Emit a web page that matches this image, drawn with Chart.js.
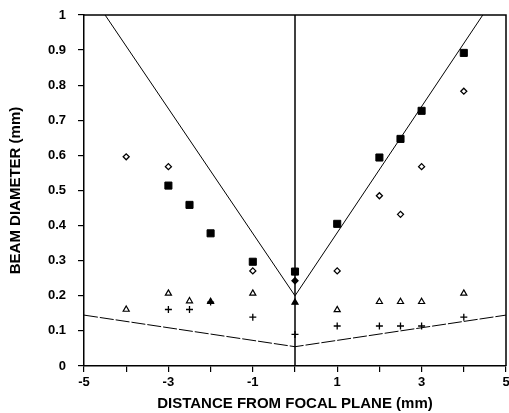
<!DOCTYPE html>
<html>
<head>
<meta charset="utf-8">
<script src="https://cdn.jsdelivr.net/npm/chart.js@4/dist/chart.umd.min.js"></script>
<style>
  html, body { margin: 0; padding: 0; background: #fff; }
  #wrap { width: 509px; height: 413px; }
</style>
</head>
<body>
<div id="wrap"><canvas id="beam"></canvas></div>
<script>
// measured beam diameters (mm) against distance from focal plane (mm)
const squareX = [-3, -2.5, -2, -1, 0, 1, 2, 2.5, 3, 4];
const squareY = [0.514, 0.459, 0.378, 0.297, 0.269, 0.405, 0.594, 0.647, 0.727, 0.892];

const diamondX = [-4, -3, -1, 0, 1, 2, 2.5, 3, 4];
const diamondY = [0.596, 0.568, 0.271, 0.243, 0.271, 0.485, 0.432, 0.568, 0.783];

const triangleX = [-4, -3, -2.5, -2, -1, 0, 1, 2, 2.5, 3, 4];
const triangleY = [0.161, 0.207, 0.185, 0.183, 0.207, 0.181, 0.160, 0.183, 0.183, 0.183, 0.207];

const plusX = [-3, -2.5, -2, -1, 0, 1, 2, 2.5, 3, 4];
const plusY = [0.161, 0.161, 0.182, 0.139, 0.090, 0.114, 0.114, 0.114, 0.114, 0.139];

// theoretical envelopes
const wideX = [-4.5, 0, 4.45];
const wideY = [1, 0.2, 1];
const narrowX = [-5, 0, 5];
const narrowY = [0.145, 0.055, 0.145];
const focalX = [0, 0];
const focalY = [0, 1];

const xTicks = [-5, -3, -1, 1, 3, 5];

const toPoints = (xs, ys) => xs.map((x, i) => ({x: x, y: ys[i]}));

const FONT = `'Liberation Sans', Arial, Helvetica, sans-serif`;

// filled look where marks sit on the focal line or overlap a cross
const fillAt = (xs) => (ctx) => (ctx.raw && xs.includes(ctx.raw.x) ? `#000` : `#fff`);

const frame = {
  id: `frame`,
  afterDraw(chart) {
    const {ctx, chartArea: a} = chart;
    ctx.save();
    ctx.strokeStyle = `#000`;
    ctx.lineWidth = 1.5;
    ctx.beginPath();
    ctx.moveTo(a.left, a.top);
    ctx.lineTo(a.right, a.top);
    ctx.lineTo(a.right, a.bottom);
    ctx.stroke();
    ctx.restore();
  }
};

const lineSet = (xs, ys, extra) => Object.assign({
  data: toPoints(xs, ys),
  showLine: true,
  borderColor: `#000`,
  borderWidth: 1,
  pointRadius: 0,
  fill: false,
}, extra);

new Chart(document.getElementById(`beam`), {
  type: `scatter`,
  plugins: [frame],
  data: {
    datasets: [
      {
        data: toPoints(squareX, squareY),
        pointStyle: `rect`,
        pointRadius: 5,
        backgroundColor: `#000`,
        borderColor: `#000`,
        borderWidth: 1,
      },
      {
        data: toPoints(diamondX, diamondY),
        pointStyle: `rectRot`,
        pointRadius: 3,
        backgroundColor: fillAt([0]),
        borderColor: `#000`,
        borderWidth: 1.3,
      },
      {
        data: toPoints(triangleX, triangleY),
        pointStyle: `triangle`,
        pointRadius: 3.5,
        backgroundColor: fillAt([-2, 0]),
        borderColor: `#000`,
        borderWidth: 1.2,
      },
      {
        data: toPoints(plusX, plusY),
        pointStyle: `cross`,
        pointRadius: 3.5,
        borderColor: `#000`,
        borderWidth: 1.3,
      },
      lineSet(wideX, wideY),
      lineSet(narrowX, narrowY, {borderDash: [14, 2]}),
      lineSet(focalX, focalY, {borderWidth: 1.5}),
    ]
  },
  options: {
    responsive: true,
    maintainAspectRatio: false,
    animation: false,
    events: [],
    layout: {autoPadding: false, padding: {top: 15, right: 3, left: 0, bottom: 0}},
    plugins: {
      legend: {display: false},
      tooltip: {enabled: false},
    },
    scales: {
      x: {
        type: `linear`,
        min: -5,
        max: 5,
        afterFit: (axis) => {
          axis.height = 47;
          axis.paddingLeft = 0;
          axis.paddingRight = 0;
        },
        border: {color: `#000`, width: 1.5},
        grid: {display: true, drawOnChartArea: false, drawTicks: true, tickLength: 6, color: `#000`, lineWidth: 1.2},
        ticks: {
          stepSize: 1,
          padding: 3,
          color: `#000`,
          font: {family: FONT, size: 13, weight: `bold`},
          callback: (v) => (xTicks.includes(v) ? String(v) : ``),
        },
        title: {
          display: true,
          text: `DISTANCE FROM FOCAL PLANE (mm)`,
          color: `#000`,
          padding: {top: 0, bottom: 0},
          font: {family: FONT, size: 15, weight: `bold`},
        },
      },
      y: {
        type: `linear`,
        min: 0,
        max: 1,
        afterFit: (axis) => {
          axis.width = 84;
          axis.paddingTop = 0;
          axis.paddingBottom = 0;
        },
        border: {color: `#000`, width: 1.5},
        grid: {display: true, drawOnChartArea: false, drawTicks: true, tickLength: 6, color: `#000`, lineWidth: 1.2},
        ticks: {
          stepSize: 0.1,
          padding: 12,
          color: `#000`,
          font: {family: FONT, size: 13, weight: `bold`},
          callback: (v) => String(Number(v.toFixed(1))),
        },
        title: {
          display: true,
          text: `BEAM DIAMETER (mm)`,
          color: `#000`,
          padding: {top: 7, bottom: 0},
          font: {family: FONT, size: 15, weight: `bold`},
        },
      },
    },
  },
});
</script>
</body>
</html>
